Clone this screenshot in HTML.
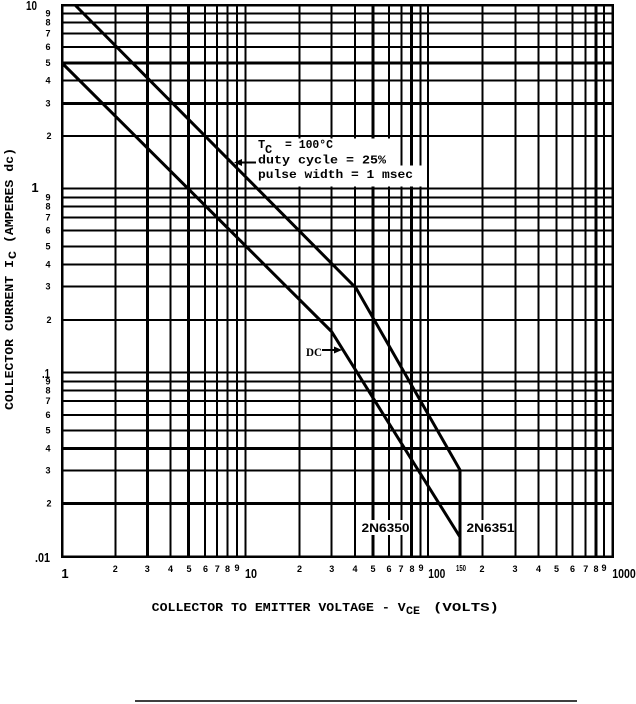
<!DOCTYPE html>
<html>
<head>
<meta charset="utf-8">
<style>
html,body{margin:0;padding:0;background:#fff;}
body{width:636px;height:704px;overflow:hidden;}
svg{display:block;}
text{font-family:"Liberation Sans",sans-serif;font-weight:bold;fill:#000;}
.m{font-family:"Liberation Mono","Liberation Sans",monospace;font-weight:bold;}
</style>
</head>
<body>
<svg width="636" height="704" viewBox="0 0 636 704" xmlns="http://www.w3.org/2000/svg">
<rect x="0" y="0" width="636" height="704" fill="#fff"/>
<path stroke="#000" stroke-width="2" fill="none" shape-rendering="crispEdges" d="M115.3 5V556.7M170.3 5V556.7M205 5V556.7M217 5V556.7M227.5 5V556.7M236.8 5V556.7M245.5 5V556.7M299.5 5V556.7M331.5 5V556.7M355 5V556.7M389 5V556.7M401.5 5V556.7M420.7 5V556.7M428 5V556.7M482.7 5V556.7M515.3 5V556.7M538.5 5V556.7M556.7 5V556.7M572.5 5V556.7M585.7 5V556.7M604 5V556.7 M62 13.5H612.7M62 22.5H612.7M62 33.5H612.7M62 47H612.7M62 80.5H612.7M62 136H612.7M62 188.5H612.7M62 197.3H612.7M62 206.5H612.7M62 217.5H612.7M62 230.5H612.7M62 246.5H612.7M62 264.5H612.7M62 286.7H612.7M62 320H612.7M62 372.7H612.7M62 381.7H612.7M62 390.7H612.7M62 401H612.7M62 415H612.7M62 430.7H612.7M62 470.7H612.7"/>
<path stroke="#000" stroke-width="3" fill="none" shape-rendering="crispEdges" d="M147.3 5V556.7M188.5 5V556.7M373 5V556.7M411.7 5V556.7M596 5V556.7M62 63H612.7M62 103.5H612.7M62 448.3H612.7M62 503.3H612.7"/>
<rect x="62" y="5" width="550.7" height="551.7" fill="none" stroke="#000" stroke-width="2.5" shape-rendering="crispEdges"/>
<rect x="252" y="138.5" width="144" height="27.5" fill="#fff"/>
<rect x="252" y="165.5" width="175" height="21" fill="#fff"/>
<rect x="360" y="520" width="50" height="15" fill="#fff"/>
<rect x="465" y="520" width="49" height="15" fill="#fff"/>
<path stroke="#000" stroke-width="3" fill="none" d="M75 5L356 288L460 470V556.7M62 63L331.5 331.5L460 537"/>
<path stroke="#000" stroke-width="2" d="M256 162.5H240M322 350H336"/>
<path fill="#000" d="M234 162.5L242 159V166ZM342 350L334 346.5V353.5Z"/>
<text class="m" x="258" y="148" font-size="12">T</text>
<text class="m" x="265" y="153" font-size="12">C</text>
<text class="m" x="285" y="148" font-size="12" textLength="48" lengthAdjust="spacingAndGlyphs">= 100°C</text>
<text class="m" x="258" y="163.5" font-size="12" textLength="128" lengthAdjust="spacingAndGlyphs">duty cycle = 25%</text>
<text class="m" x="258" y="178" font-size="12" textLength="155" lengthAdjust="spacingAndGlyphs">pulse width = 1 msec</text>
<text x="306" y="356" font-size="12" textLength="16" lengthAdjust="spacingAndGlyphs" style="font-family:'Liberation Serif',serif;">DC</text>
<text x="361.5" y="532" font-size="12" textLength="48" lengthAdjust="spacingAndGlyphs">2N6350</text>
<text x="466.5" y="532" font-size="12" textLength="48" lengthAdjust="spacingAndGlyphs">2N6351</text>
<g font-size="9" text-anchor="middle">
<text x="48" y="16.5">9</text><text x="48" y="25.5">8</text><text x="48" y="36.5">7</text><text x="48" y="50">6</text><text x="48" y="66">5</text><text x="48" y="83.5">4</text><text x="48" y="106.5">3</text><text x="49" y="139">2</text>
<text x="48" y="200.3">9</text><text x="48" y="209.5">8</text><text x="48" y="220.5">7</text><text x="48" y="233.5">6</text><text x="48" y="249.5">5</text><text x="48" y="267.5">4</text><text x="48" y="289.7">3</text><text x="49" y="323">2</text>
<text x="48" y="384.7">9</text><text x="48" y="393.7">8</text><text x="48" y="404">7</text><text x="48" y="418">6</text><text x="48" y="433.7">5</text><text x="48" y="451.3">4</text><text x="48" y="473.7">3</text><text x="49" y="506.3">2</text>
<text x="115.3" y="572">2</text><text x="147.3" y="572">3</text><text x="170.5" y="572">4</text><text x="189" y="572">5</text><text x="205.5" y="572">6</text><text x="217.3" y="572">7</text><text x="227.5" y="572">8</text><text x="237" y="571">9</text>
<text x="299.5" y="572">2</text><text x="331.7" y="572">3</text><text x="355" y="572">4</text><text x="373" y="572">5</text><text x="389" y="572">6</text><text x="401" y="572">7</text><text x="412" y="572">8</text><text x="421" y="571">9</text>
<text x="482" y="572">2</text><text x="515" y="572">3</text><text x="538.5" y="572">4</text><text x="556.5" y="572">5</text><text x="572.5" y="572">6</text><text x="585.7" y="572">7</text><text x="596" y="572">8</text><text x="604" y="571">9</text>
</g>
<text x="26" y="10" font-size="13" textLength="11" lengthAdjust="spacingAndGlyphs">10</text>
<text x="35" y="192" font-size="13" text-anchor="middle">1</text>
<text x="42" y="378" font-size="13" textLength="8" lengthAdjust="spacingAndGlyphs">.1</text>
<text x="35" y="562" font-size="13" textLength="15" lengthAdjust="spacingAndGlyphs">.01</text>
<text x="456" y="571" font-size="8" textLength="10" lengthAdjust="spacingAndGlyphs">150</text>
<text x="65" y="578" font-size="13" text-anchor="middle">1</text>
<text x="245" y="578" font-size="13" textLength="12" lengthAdjust="spacingAndGlyphs">10</text>
<text x="428.3" y="578" font-size="13" textLength="17" lengthAdjust="spacingAndGlyphs">100</text>
<text x="612.3" y="578" font-size="13" textLength="23.5" lengthAdjust="spacingAndGlyphs">1000</text>
<text class="m" x="151.7" y="611" font-size="12" textLength="254" lengthAdjust="spacingAndGlyphs">COLLECTOR TO EMITTER VOLTAGE - V</text>
<text class="m" x="406" y="614" font-size="11" textLength="14" lengthAdjust="spacingAndGlyphs">CE</text>
<text class="m" x="433" y="611" font-size="12" textLength="66" lengthAdjust="spacingAndGlyphs">(VOLTS)</text>
<g transform="translate(13,410) rotate(-90)">
<text class="m" x="0" y="0" font-size="12" textLength="150" lengthAdjust="spacingAndGlyphs">COLLECTOR CURRENT I</text>
<text class="m" x="151" y="3" font-size="11" textLength="8" lengthAdjust="spacingAndGlyphs">C</text>
<text class="m" x="167" y="0" font-size="12" textLength="95" lengthAdjust="spacingAndGlyphs">(AMPERES dc)</text>
</g>
<path stroke="#000" stroke-width="1.5" d="M135 701H577"/>
</svg>
</body>
</html>
